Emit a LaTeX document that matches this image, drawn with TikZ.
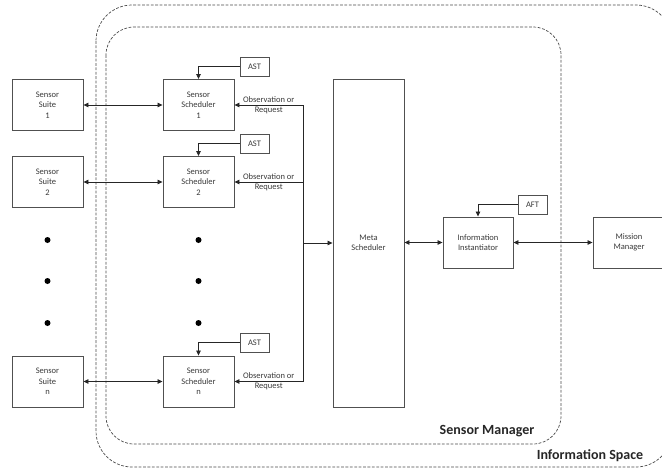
\documentclass[tikz,border=0pt]{standalone}
\usepackage{fontspec}
\setmainfont{Carlito}
\usetikzlibrary{arrows.meta}

\definecolor{ink}{HTML}{3A3A3A}
\definecolor{frame}{HTML}{505050}
\definecolor{dash}{HTML}{4A4A4A}

\tikzset{
  box/.style={draw=frame, line width=0.9pt, fill=white, align=center,
    text=ink, inner sep=0pt, font=\fontsize{8.5}{10.5}\selectfont},
  bigbox/.style={box, minimum width=71pt, minimum height=51pt},
  tag/.style={box, minimum width=29pt, minimum height=19pt},
  link/.style={draw=black!85, line width=0.8pt},
  tip/.style={-{Triangle[length=5pt,width=4.5pt]}},
  both/.style={{Triangle[length=5pt,width=4.5pt]}-{Triangle[length=5pt,width=4.5pt]}},
  region/.style={draw=dash, line width=0.7pt, dash pattern=on 2.8pt off 1.6pt},
  regionlabel/.style={font=\fontsize{14}{16}\selectfont\bfseries, text=black!85, inner sep=0pt},
  dot/.style={circle, fill=black, inner sep=0pt, minimum size=6pt},
  obs/.style={text=ink, font=\fontsize{8.5}{10}\selectfont, align=center, inner sep=0pt}
}

\begin{document}
\begin{tikzpicture}[x=1pt, y=-1pt]
\useasboundingbox (0,0) rectangle (662,471);

% nested dashed regions
\draw[region, rounded corners=36pt] (96,5) rectangle (672,467);
\draw[region, rounded corners=28pt] (106,27) rectangle (561,444);
\node[regionlabel] (lblsm) at (487,431) {Sensor Manager};
\node[regionlabel] (lblis) at (590,456) {Information Space};

% sensor suites
\node[bigbox] (s1) at (47.5,105) {Sensor\\Suite\\1};
\node[bigbox] (s2) at (47.5,182) {Sensor\\Suite\\2};
\node[bigbox] (sn) at (47.5,381.5) {Sensor\\Suite\\n};

% sensor schedulers
\node[bigbox] (c1) at (198.5,105) {Sensor\\Scheduler\\1};
\node[bigbox] (c2) at (198.5,182) {Sensor\\Scheduler\\2};
\node[bigbox] (cn) at (198.5,381.5) {Sensor\\Scheduler\\n};

% AST inputs
\node[tag] (a1) at (254.5,66.5) {AST};
\node[tag] (a2) at (254.5,143.5) {AST};
\node[tag] (an) at (254.5,342.5) {AST};

% ellipsis dots
\node[dot] (d1) at (47.5,240) {};
\node[dot] (d2) at (47.5,281) {};
\node[dot] (d3) at (47.5,323) {};
\node[dot] (e1) at (198.5,240) {};
\node[dot] (e2) at (198.5,281) {};
\node[dot] (e3) at (198.5,323) {};

% meta scheduler and downstream
\node[box, minimum width=71pt, minimum height=328pt] (meta) at (368.5,243) {Meta\\Scheduler};
\node[box, minimum width=70pt, minimum height=51pt] (ii) at (478,242.5) {Information\\Instantiator};
\node[tag] (aft) at (532.5,204.5) {AFT};
\node[box, minimum width=72pt, minimum height=51pt] (mm) at (629,242.5) {Mission\\Manager};

% feedback bus
\coordinate (b1) at (303,105);
\coordinate (b2) at (303,182);
\coordinate (bn) at (303,381.5);
\coordinate (bm) at (303,243);

% suite <-> scheduler
\draw[link, both] (s1.east) -- (c1.west);
\draw[link, both] (s2.east) -- (c2.west);
\draw[link, both] (sn.east) -- (cn.west);

% AST feeds
\draw[link, tip] (a1.west) -| (c1.north);
\draw[link, tip] (a2.west) -| (c2.north);
\draw[link, tip] (an.west) -| (cn.north);

% observation / request feedback
\draw[link, tip] (b1) -- node[obs] {Observation or\\Request} (c1.east);
\draw[link, tip] (b2) -- node[obs] {Observation or\\Request} (c2.east);
\draw[link, tip] (bn) -- node[obs] {Observation or\\Request} (cn.east);
\draw[link] (b1) -- (bn);
\draw[link, tip] (bm) -- (meta.west |- bm);

% meta <-> instantiator <-> mission manager
\draw[link, both] (meta.east |- ii.west) -- (ii.west);
\draw[link, tip] (aft.west) -| (ii.north);
\draw[link, both] (ii.east) -- (mm.west);
\end{tikzpicture}
\end{document}
